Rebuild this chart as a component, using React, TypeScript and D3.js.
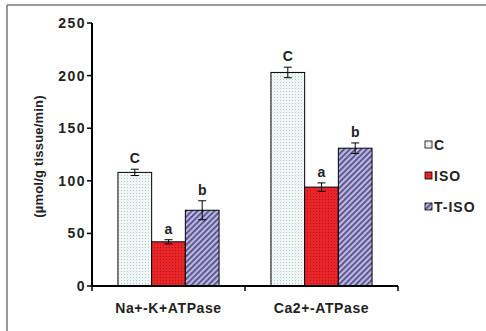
import React from "react";
import * as d3 from "d3";

const categories = ["Na+-K+ATPase", "Ca2+-ATPase"];
const seriesNames = ["C", "ISO", "T-ISO"];
const valuesC = [108, 203];
const valuesISO = [42, 94];
const valuesTISO = [72, 131];
const errC = [3, 5];
const errISO = [2, 4];
const errTISO = [9, 5];
const lettersC = ["C", "C"];
const lettersISO = ["a", "a"];
const lettersTISO = ["b", "b"];
const yTicks = [0, 50, 100, 150, 200, 250];

const W = 486;
const H = 331;
const M = { left: 92, right: 88, top: 23, bottom: 45 };

export default function App() {
  const x0 = d3
    .scaleBand<string>()
    .domain(categories)
    .range([M.left, W - M.right])
    .paddingInner(0)
    .paddingOuter(0);
  const x1 = d3
    .scaleBand<string>()
    .domain(seriesNames)
    .range([0, x0.bandwidth()])
    .paddingOuter(0.77)
    .paddingInner(0);
  const y = d3.scaleLinear().domain([0, 250]).range([H - M.bottom, M.top]);

  const series = [
    { name: "C", vals: valuesC, errs: errC, letters: lettersC, fill: "url(#patC)" },
    { name: "ISO", vals: valuesISO, errs: errISO, letters: lettersISO, fill: "url(#patISO)" },
    { name: "T-ISO", vals: valuesTISO, errs: errTISO, letters: lettersTISO, fill: "url(#patT)" },
  ];

  const font = "'Liberation Sans', Arial, sans-serif";
  const y0 = y(0);

  return (
    <svg
      width={W}
      height={H}
      style={{ position: "absolute", left: 0, top: 0, background: "#fff" }}
      fontFamily={font}
    >
      <defs>
        <pattern id="patC" width="3" height="3" patternUnits="userSpaceOnUse">
          <rect width="3" height="3" fill="#eef7f5" />
          <rect x="1" y="1" width="1" height="1" fill="#b9c9c6" />
        </pattern>
        <pattern id="patISO" width="3" height="3" patternUnits="userSpaceOnUse">
          <rect width="3" height="3" fill="#e8262a" />
          <rect x="1" y="1" width="1" height="1" fill="#b81416" />
        </pattern>
        <pattern
          id="patT"
          width="4"
          height="4"
          patternUnits="userSpaceOnUse"
          patternTransform="rotate(45)"
        >
          <rect width="4" height="4" fill="#bcb8e0" />
          <rect width="1.7" height="4" fill="#4e4a86" />
        </pattern>
      </defs>

      {/* frame */}
      <line x1={7} y1={5} x2={W} y2={5} stroke="#777" strokeWidth={1.5} />
      <line x1={7} y1={5} x2={7} y2={H} stroke="#777" strokeWidth={1.5} />

      {/* bars */}
      {series.map((s) =>
        categories.map((c, i) => {
          const bx = (x0(c) as number) + (x1(s.name) as number);
          const bw = x1.bandwidth();
          const cx = bx + bw / 2;
          const top = y(s.vals[i]);
          const eTop = y(s.vals[i] + s.errs[i]);
          const eBot = y(s.vals[i] - s.errs[i]);
          return (
            <g key={s.name + c}>
              <rect
                x={bx}
                y={top}
                width={bw}
                height={y0 - top}
                fill={s.fill}
                stroke="#000"
                strokeWidth={1}
              />
              <line x1={cx} x2={cx} y1={eTop} y2={eBot} stroke="#000" strokeWidth={1} />
              <line x1={cx - 4} x2={cx + 4} y1={eTop} y2={eTop} stroke="#000" strokeWidth={1} />
              <line x1={cx - 4} x2={cx + 4} y1={eBot} y2={eBot} stroke="#000" strokeWidth={1} />
              <text
                x={cx}
                y={eTop - 6}
                textAnchor="middle"
                fontSize={14}
                fontWeight="bold"
                fill="#222"
              >
                {s.letters[i]}
              </text>
            </g>
          );
        })
      )}

      {/* y axis */}
      <line x1={M.left} x2={M.left} y1={y(250)} y2={y0} stroke="#000" strokeWidth={2} />
      {yTicks.map((t) => (
        <g key={t}>
          <line x1={M.left - 5} x2={M.left} y1={y(t)} y2={y(t)} stroke="#000" strokeWidth={1.5} />
          <text
            x={M.left - 6}
            y={y(t)}
            dy="0.35em"
            textAnchor="end"
            fontSize={14}
            fontWeight="bold"
            letterSpacing={1.5}
            fill="#222"
          >
            {t}
          </text>
        </g>
      ))}

      {/* x axis */}
      <line x1={M.left} x2={W - M.right} y1={y0} y2={y0} stroke="#000" strokeWidth={2} />
      {[...categories.map((c) => x0(c) as number), W - M.right].map((xv, i) => (
        <line key={i} x1={xv} x2={xv} y1={y0} y2={y0 + 5} stroke="#000" strokeWidth={1.5} />
      ))}
      {categories.map((c) => (
        <text
          key={c}
          x={(x0(c) as number) + x0.bandwidth() / 2}
          y={y0 + 27}
          textAnchor="middle"
          fontSize={14}
          fontWeight="bold"
          letterSpacing={0.6}
          fill="#222"
        >
          {c}
        </text>
      ))}

      {/* y label */}
      <text
        transform={`translate(38,${(y(250) + y0) / 2 + 2}) rotate(-90)`}
        textAnchor="middle"
        dy="0.35em"
        fontSize={13}
        fontWeight="bold"
        letterSpacing={0.2}
        fill="#222"
      >
        (µmol/g tissue/min)
      </text>

      {/* legend */}
      {series.map((s, i) => {
        const ly = 145 + i * 31;
        return (
          <g key={s.name}>
            <rect x={425} y={ly - 4} width={7} height={7} fill={s.fill} stroke="#000" strokeWidth={0.8} />
            <text x={434} y={ly} dy="0.35em" fontSize={14} fontWeight="bold" letterSpacing={1} fill="#222">
              {s.name}
            </text>
          </g>
        );
      })}
    </svg>
  );
}
